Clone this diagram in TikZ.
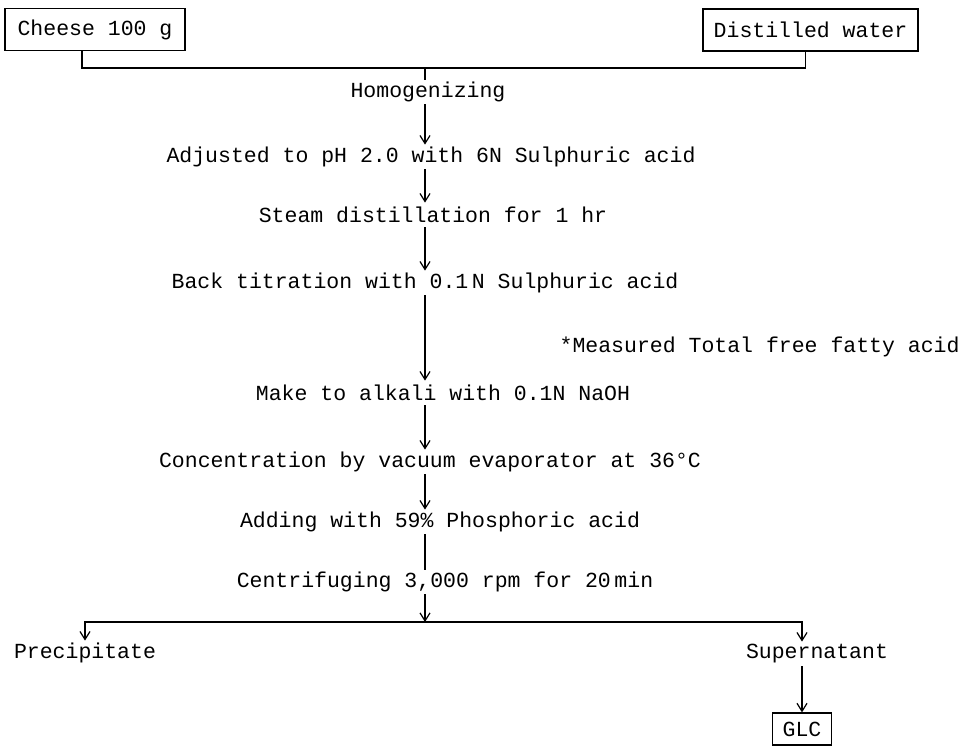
\documentclass[tikz,border=0pt]{standalone}
\usepackage{fontspec}
\usepackage{xcolor}
\usepackage{tikz}
\usetikzlibrary{
  arrows.meta,
  positioning
}
\newfontfamily\typefont{Liberation Mono}
\tikzset{
  stepnode/.style={
    inner sep=0pt,
    minimum height=12pt,
    align=center
  },
  inbox/.style={
    draw,
    line width=0.6pt,
    inner sep=0pt,
    minimum height=21pt,
    align=center
  },
  flow/.style={
    -{Straight Barb[length=4pt,width=5pt]},
    line width=0.6pt
  },
  plainline/.style={
    line width=0.6pt
  }
}

\begin{document}
\begin{tikzpicture}[x=0.5pt,y=-0.5pt,font=\typefont\fontsize{10.75}{12}\selectfont]

  \useasboundingbox (0,0) rectangle (965,746);

  \node[
    inbox,
    minimum width=90pt
  ] at (95,29.5) (cheese) {Cheese 100 g};

  \node[
    inbox,
    minimum width=107.5pt
  ] at (810.5,30) (water) {Distilled water};

  \coordinate (join) at (425,68);

  \node[stepnode] at (428,92) (homog) {Homogenizing};
  \node[stepnode] at (431,157) (adjust) {Adjusted to pH 2.0 with 6N Sulphuric acid};
  \node[stepnode] at (433,215) (steam) {Steam distillation for 1 hr};
  \node[stepnode] at (425,283) (titrate) {Back titration with 0.1\,N Sulphuric acid};
  \node[stepnode,anchor=east] at (960,347) (measured) {*Measured Total free fatty acid};
  \node[stepnode] at (443,393) (alkali) {Make to alkali with 0.1N NaOH};
  \node[stepnode] at (430,462) (concen) {Concentration by vacuum evaporator at 36°C};
  \node[stepnode] at (440,522) (adding) {Adding with 59\% Phosphoric acid};
  \node[stepnode] at (445,582) (centri) {Centrifuging 3,000 rpm for 20\,min};

  \coordinate (split) at (425,622);

  \node[stepnode] at (85,653) (precip) {Precipitate};
  \node[stepnode] at (817,654) (super) {Supernatant};

  \node[
    inbox,
    minimum width=29.5pt,
    minimum height=16pt
  ] at (802,729) (glc) {GLC};

  % mixing bracket
  \draw[plainline]
  ([xshift=-6.5pt]cheese.south) |-
  (join) -|
  ([xshift=-2.5pt]water.south);

  \draw[plainline]
  (join) --
  (homog.north -| join);

  % main flow
  \draw[flow] (homog.south -| join) -- (adjust.north -| join);
  \draw[flow] (adjust.south -| join) -- (steam.north -| join);
  \draw[flow] (steam.south -| join) -- (titrate.north -| join);
  \draw[flow] (titrate.south -| join) -- (alkali.north -| join);
  \draw[flow] (alkali.south -| join) -- (concen.north -| join);
  \draw[flow] (concen.south -| join) -- (adding.north -| join);
  \draw[plainline] (adding.south -| join) -- (centri.north -| join);
  \draw[flow] (centri.south -| join) -- (split);

  % separation
  \draw[flow]
  (split) -|
  (precip.north);

  \draw[flow]
  (split) -|
  (super.north -| glc.north);

  \draw[flow]
  (super.south -| glc.north) --
  (glc.north);

\end{tikzpicture}
\end{document}
